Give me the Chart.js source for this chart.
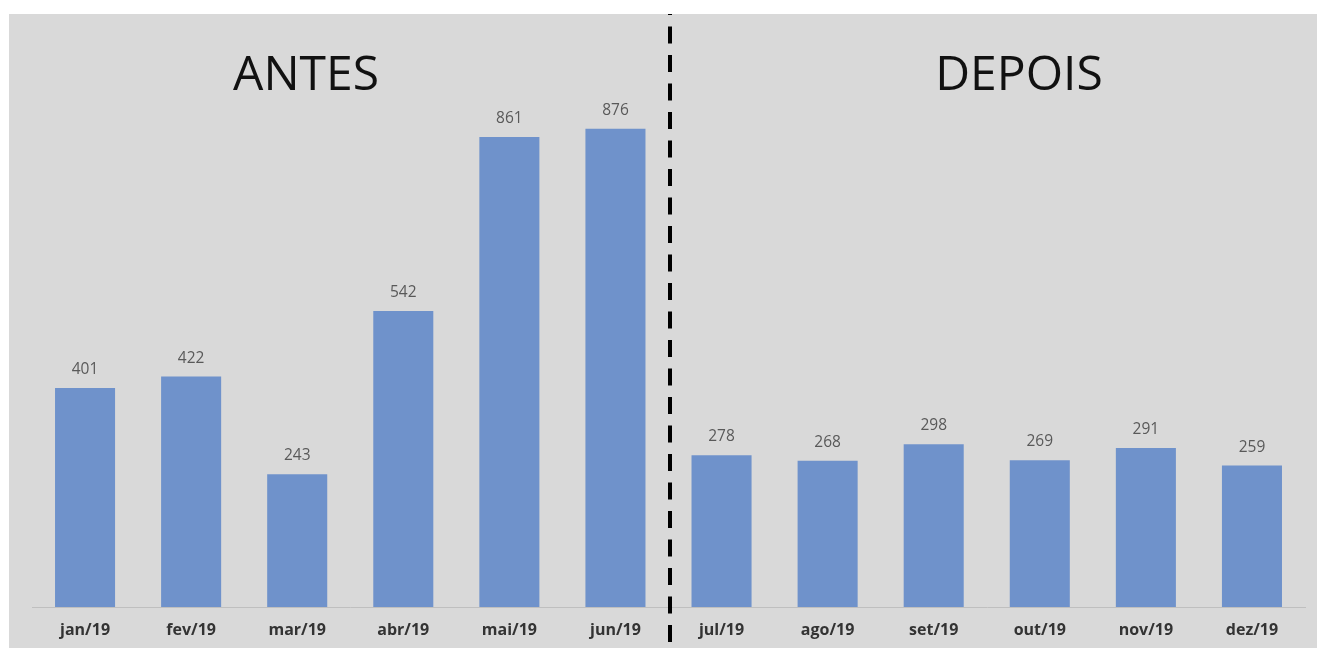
<!DOCTYPE html>
<html lang="pt-BR">
<head>
<meta charset="utf-8">
<title>Antes e depois</title>
<script src="https://cdn.jsdelivr.net/npm/chart.js@4/dist/chart.umd.min.js"></script>
<style>
  html, body { margin: 0; padding: 0; background: #fff; }
  canvas { display: block; }
</style>
</head>
<body>
<canvas id="chart" width="1317" height="648"></canvas>
<script>
const months = ['jan/19', 'fev/19', 'mar/19', 'abr/19', 'mai/19', 'jun/19',
                'jul/19', 'ago/19', 'set/19', 'out/19', 'nov/19', 'dez/19'];
const totals = [401, 422, 243, 542, 861, 876, 278, 268, 298, 269, 291, 259];
const periods = ['ANTES', 'DEPOIS'];
const splitAfter = 5; // last month of the first period

const FONT = "'Open Sans', 'Noto Sans', sans-serif";

// grey panel behind everything, with a thin white border top/left
const panel = {
  id: 'panel',
  beforeDraw(chart) {
    const ctx = chart.ctx;
    ctx.save();
    ctx.fillStyle = '#ffffff';
    ctx.fillRect(0, 0, chart.width, chart.height);
    ctx.fillStyle = '#d9d9d9';
    ctx.fillRect(9, 14, chart.width - 9, chart.height - 14);
    ctx.restore();
  },
};

// value above each bar
const barValues = {
  id: 'barValues',
  afterDatasetsDraw(chart) {
    const ctx = chart.ctx;
    const meta = chart.getDatasetMeta(0);
    ctx.save();
    ctx.font = `15.5px ${FONT}`;
    ctx.fillStyle = '#595959';
    ctx.textAlign = 'center';
    ctx.textBaseline = 'alphabetic';
    meta.data.forEach((bar, i) => {
      ctx.fillText(totals[i], bar.x, bar.y - 14);
    });
    ctx.restore();
  },
};

// dashed divider between the two periods + period headings
const divider = {
  id: 'divider',
  afterDraw(chart) {
    const ctx = chart.ctx;
    const x = chart.scales.x;
    const xm = Math.round((x.getPixelForTick(splitAfter) + x.getPixelForTick(splitAfter + 1)) / 2) + 1;
    ctx.save();
    ctx.strokeStyle = '#000';
    ctx.lineWidth = 4;
    ctx.setLineDash([17, 11.5]);
    ctx.lineDashOffset = 16;
    ctx.beginPath();
    ctx.moveTo(xm, 14);
    ctx.lineTo(xm, chart.height);
    ctx.stroke();
    ctx.setLineDash([]);

    ctx.font = `48px ${FONT}`;
    ctx.fillStyle = '#111';
    ctx.textAlign = 'center';
    ctx.textBaseline = 'alphabetic';
    ctx.fillText(periods[0], 306, 90);
    ctx.fillText(periods[1], 1019, 90);
    ctx.restore();
  },
};

new Chart(document.getElementById('chart'), {
  type: 'bar',
  data: {
    labels: months,
    datasets: [{
      data: totals,
      backgroundColor: '#6f92cb',
      borderWidth: 0,
      barPercentage: 0.566,
      categoryPercentage: 1,
    }],
  },
  options: {
    responsive: false,
    animation: false,
    layout: { padding: { left: 32, right: 12, top: 61, bottom: 0 } },
    plugins: { legend: { display: false }, tooltip: { enabled: false } },
    scales: {
      x: {
        grid: { display: false, drawTicks: false },
        border: { display: true, color: '#bfbfbf', width: 1 },
        ticks: { color: '#333', padding: 14, font: { family: FONT, size: 16, weight: 'bold' } },
        afterFit(scale) { scale.height = 41; },
      },
      y: { display: false, min: 0, max: 1000 },
    },
  },
  plugins: [panel, barValues, divider],
});
</script>
</body>
</html>
